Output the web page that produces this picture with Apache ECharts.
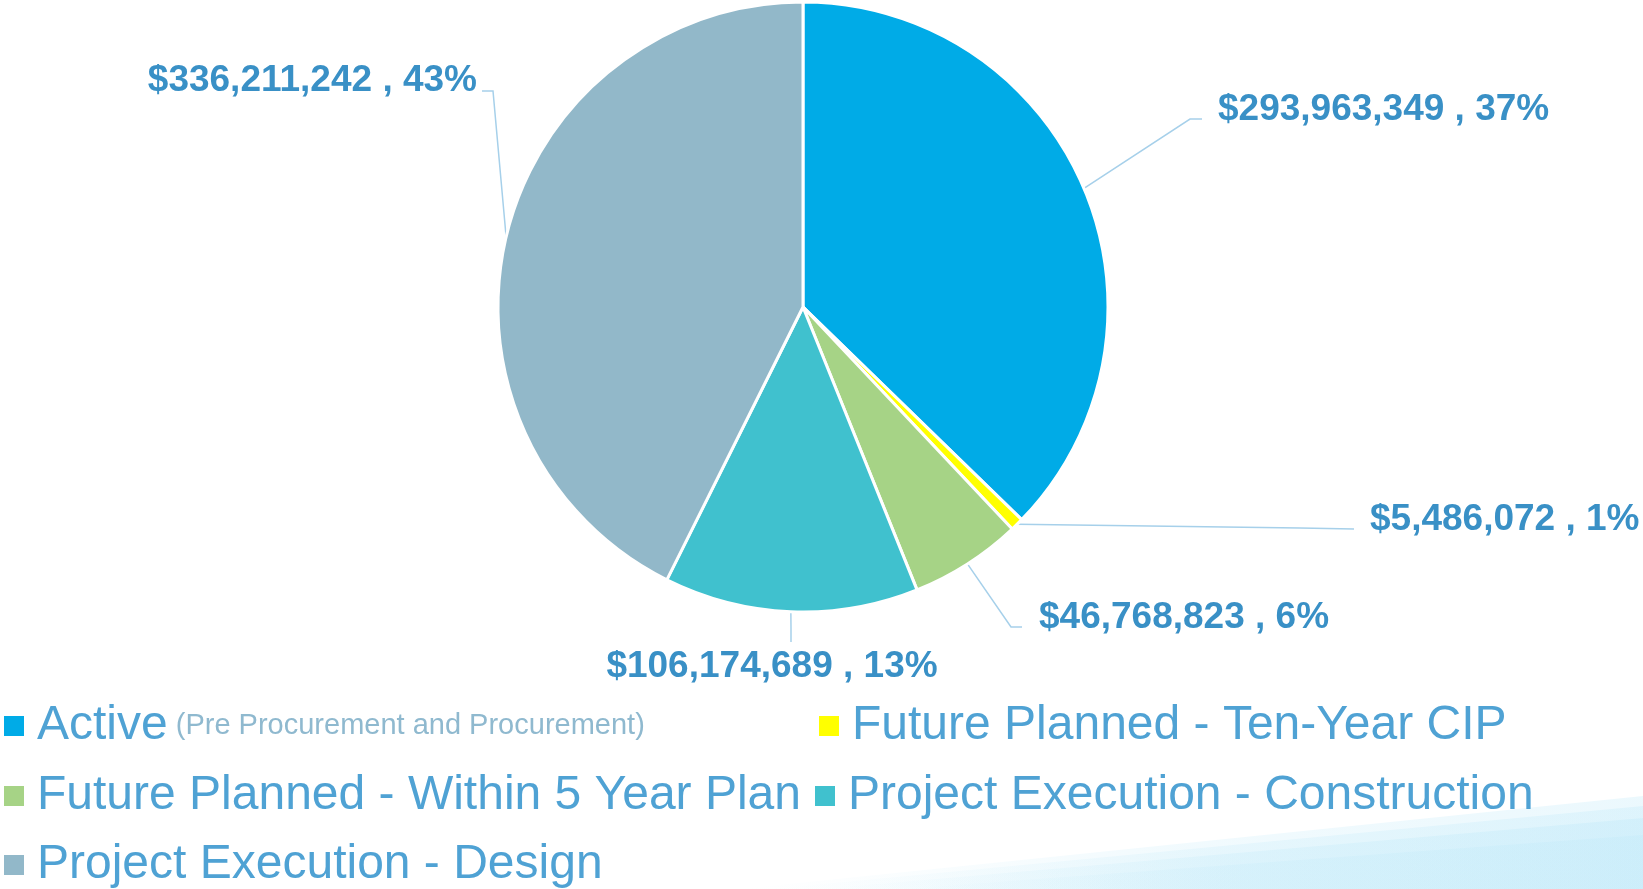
<!DOCTYPE html>
<html>
<head>
<meta charset="utf-8">
<title>Project dollars by stage</title>
<script src="https://cdn.jsdelivr.net/npm/echarts@6/dist/echarts.min.js"></script>
<style>
  html, body { margin: 0; padding: 0; background: #ffffff; }
  #chart { width: 1643px; height: 889px; }
</style>
</head>
<body>
<div id="chart"></div>
<script>
const stages = [
  "Active",
  "Future Planned - Ten-Year CIP",
  "Future Planned - Within 5 Year Plan",
  "Project Execution - Construction",
  "Project Execution - Design"
];
const amounts = [293963349, 5486072, 46768823, 106174689, 336211242];
const stageNotes = { Active: "(Pre Procurement and Procurement)" };

const stageColors = ["#00abe7", "#ffff00", "#a6d386", "#40c1ce", "#92b8c9"];
const labelColor = "#3990c6";
const legendColor = "#4fa2d4";
const noteColor = "#8fb9cf";
const font = "'Liberation Sans', Arial, sans-serif";

// value label placement + leader bend, in chart px (leaders start at the slice edge)
const labelSpots = [
  { text: [1218, 110], align: "left", bend: [[1190, 119], [1202, 119]] },
  { text: [1370, 520], align: "left", bend: [[1300, 528], [1354, 529]] },
  { text: [1039, 618], align: "left", bend: [[1011, 627], [1022, 627]] },
  { text: [772, 667], align: "center", bend: [[791, 628], [791, 642]] },
  { text: [477, 81], align: "right", bend: [[493, 91], [482, 91]] }
];
// legend grid: marker left edge, row centre
const legendSpots = [
  { left: 2, mid: 723 },
  { left: 817, mid: 723 },
  { left: 2, mid: 793 },
  { left: 813, mid: 793 },
  { left: 2, mid: 862 }
];

const chart = echarts.init(document.getElementById("chart"));

function money(v) {
  return "$" + v.toLocaleString("en-US");
}

// soft cyan swoosh in the lower right corner, built from a few faint layers
function swoosh(points, alpha) {
  return {
    type: "polygon",
    silent: true,
    z: 0,
    shape: { points },
    style: {
      fill: new echarts.graphic.LinearGradient(0, 0, 1, 0, [
        { offset: 0, color: "rgba(190,233,249,0)" },
        { offset: 0.5, color: "rgba(190,233,249," + alpha * 0.7 + ")" },
        { offset: 1, color: "rgba(190,233,249," + alpha + ")" }
      ])
    }
  };
}

chart.setOption({
  backgroundColor: "#ffffff",
  animation: false,
  color: stageColors,
  textStyle: { fontFamily: font },
  graphic: [
    swoosh([[740, 889], [1643, 796], [1643, 889]], 0.3),
    swoosh([[770, 889], [1643, 806], [1643, 889]], 0.3),
    swoosh([[820, 889], [1643, 818], [1643, 889]], 0.35),
    swoosh([[900, 889], [1643, 835], [1643, 889]], 0.3)
  ],
  legend: stages.map((name, i) => ({
    data: [name],
    left: legendSpots[i].left,
    top: legendSpots[i].mid - 21,
    padding: 0,
    icon: "rect",
    itemWidth: 22,
    itemHeight: 22,
    selectedMode: false,
    formatter: (n) => (stageNotes[n] ? "{a|" + n + "}{b| " + stageNotes[n] + "}" : n),
    textStyle: {
      color: legendColor,
      fontSize: 48,
      fontFamily: font,
      padding: [0, 0, 0, 7],
      rich: {
        a: { color: legendColor, fontSize: 48, fontFamily: font },
        b: { color: noteColor, fontSize: 29, fontFamily: font }
      }
    }
  })),
  series: [
    {
      type: "pie",
      center: [803, 307],
      radius: 305,
      startAngle: 90,
      clockwise: true,
      percentPrecision: 0,
      avoidLabelOverlap: false,
      itemStyle: { borderColor: "#ffffff", borderWidth: 3 },
      emphasis: { scale: false },
      label: {
        show: true,
        position: "outside",
        color: labelColor,
        fontSize: 37,
        fontWeight: "bold",
        fontFamily: font,
        formatter: (p) => money(p.value) + " , " + p.percent + "%"
      },
      labelLine: {
        show: true,
        length: 20,
        length2: 10,
        lineStyle: { color: "#a6d0ea", width: 1.5 }
      },
      labelLayout: (params) => {
        const spot = labelSpots[params.dataIndex];
        const start = params.labelLinePoints[0];
        return {
          x: spot.text[0],
          y: spot.text[1],
          align: spot.align,
          verticalAlign: "middle",
          labelLinePoints: [start, spot.bend[0], spot.bend[1]]
        };
      },
      data: stages.map((name, i) => ({ name, value: amounts[i] }))
    }
  ]
});
</script>
</body>
</html>
